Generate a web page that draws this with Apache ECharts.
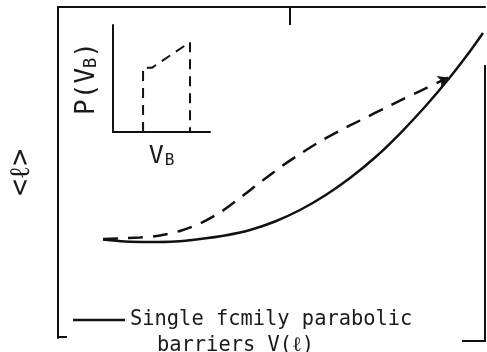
<!DOCTYPE html>
<html>
<head>
<meta charset="utf-8">
<script src="https://cdn.jsdelivr.net/npm/echarts@6/dist/echarts.min.js"></script>
<style>html,body{margin:0;padding:0;background:#fff}#c{width:487px;height:352px}</style>
</head>
<body>
<div id="c"></div>
<script>
// Main panel: <l> versus position (arbitrary units 0..100)
var solidCurve = [[10.54,29.76],[15.69,29.15],[21.55,29.00],[27.40,29.15],[33.26,29.91],[39.11,30.97],[44.96,32.63],[50.82,35.20],[56.67,38.67],[62.53,43.05],[68.38,48.34],[74.24,54.53],[80.09,61.78],[85.95,69.86],[91.80,78.78],[96.49,86.63],[99.53,92.13]];
var dashedCurve = [[10.54,29.91],[19.20,30.36],[23.89,30.97],[28.57,32.33],[33.26,34.59],[37.94,37.92],[42.62,42.30],[47.31,46.98],[51.99,51.51],[56.67,55.59],[61.36,59.37],[66.04,62.69],[70.73,65.71],[77.75,70.24],[84.78,74.62],[91.33,78.70]];
// Inset: P(V_B) distribution
var insetCurve = [[31,0],[31,60],[40,60],[79.4,84],[79.4,0]];
var legendName = 'Single fcmily parabolic';
var legendLine2 = 'barriers V(\u2113)';
var yName = '<\u2113>';

var ink = '#111';
var txt = '#1a1a1a';
var mono = 'DejaVu Sans Mono';
var chart = echarts.init(document.getElementById('c'));
var dashedData = dashedCurve.map(function(p, i){
  if (i === dashedCurve.length - 1) {
    return {value: p, symbol: 'arrow', symbolSize: [9, 10], symbolRotate: -66, itemStyle: {color: ink}};
  }
  return {value: p, symbol: 'none'};
});
chart.setOption({
  animation: false,
  backgroundColor: '#fff',
  title: {
    text: legendLine2, left: 152, top: 331,
    textStyle: {fontFamily: mono, fontSize: 20.4, fontWeight: 'normal', color: txt}
  },
  legend: {
    left: 68, top: 305, itemWidth: 52, itemHeight: 2.5, icon: 'rect',
    data: [legendName],
    textStyle: {fontFamily: mono, fontSize: 20.4, color: txt}
  },
  grid: [
    {left: 58, right: 2, top: 7, bottom: 14, containLabel: false, outerBoundsMode: 'none'},
    {left: 113, top: 25, width: 97, height: 107, containLabel: false, outerBoundsMode: 'none'}
  ],
  xAxis: [
    {gridIndex: 0, type: 'value', min: 0, max: 100, position: 'top',
     axisLine: {show: true, onZero: false, lineStyle: {color: ink, width: 2}}, axisTick: {show: false},
     axisLabel: {show: false}, splitLine: {show: false}},
    {gridIndex: 1, type: 'value', min: 0, max: 100, name: 'V{sub|B}', nameLocation: 'middle', nameGap: 11,
     nameTextStyle: {fontFamily: mono, fontSize: 25, color: txt, rich: {sub: {fontSize: 16, verticalAlign: 'bottom', padding: [10, 0, 0, 1], fontFamily: mono, color: txt}}},
     axisLine: {show: true, onZero: false, lineStyle: {color: ink, width: 2}}, axisTick: {show: false},
     axisLabel: {show: false}, splitLine: {show: false}}
  ],
  yAxis: [
    {gridIndex: 0, type: 'value', min: 0, max: 100, name: yName, nameLocation: 'middle', nameRotate: 90, nameGap: 22,
     nameTextStyle: {fontFamily: mono, fontSize: 28, color: txt},
     axisLine: {show: true, onZero: false, lineStyle: {color: ink, width: 2}}, axisTick: {show: false},
     axisLabel: {show: false}, splitLine: {show: false}},
    {gridIndex: 1, type: 'value', min: 0, max: 100, name: 'P(V{sub|B})', nameLocation: 'middle', nameRotate: 90, nameGap: 13,
     nameTextStyle: {fontFamily: mono, fontSize: 26, color: txt, rich: {sub: {fontSize: 17, verticalAlign: 'bottom', fontFamily: mono, color: txt}}},
     axisLine: {show: true, onZero: false, lineStyle: {color: ink, width: 2}}, axisTick: {show: false},
     axisLabel: {show: false}, splitLine: {show: false}}
  ],
  series: [
    {name: legendName, type: 'line', xAxisIndex: 0, yAxisIndex: 0, data: solidCurve, smooth: 0.3,
     symbol: 'none', color: ink, lineStyle: {color: ink, width: 2.5}},
    {name: 'dashed', type: 'line', xAxisIndex: 0, yAxisIndex: 0, data: dashedData, smooth: 0.3,
     symbol: 'none', showAllSymbol: true, color: ink, lineStyle: {color: ink, width: 2.5, type: [15, 10]}},
    {name: 'inset', type: 'line', xAxisIndex: 1, yAxisIndex: 1, data: insetCurve, symbol: 'none',
     color: ink, lineStyle: {color: ink, width: 2, type: [10, 7]}}
  ],
  graphic: [
    {type: 'line', shape: {x1: 290, y1: 7, x2: 290, y2: 25}, style: {stroke: ink, lineWidth: 2}},
    {type: 'polyline', shape: {points: [[485, 65], [485, 341], [462, 341]]}, style: {stroke: ink, lineWidth: 2, fill: null}},
    {type: 'line', shape: {x1: 58, y1: 337, x2: 67, y2: 337}, style: {stroke: ink, lineWidth: 2}}
  ]
});
</script>
</body>
</html>
